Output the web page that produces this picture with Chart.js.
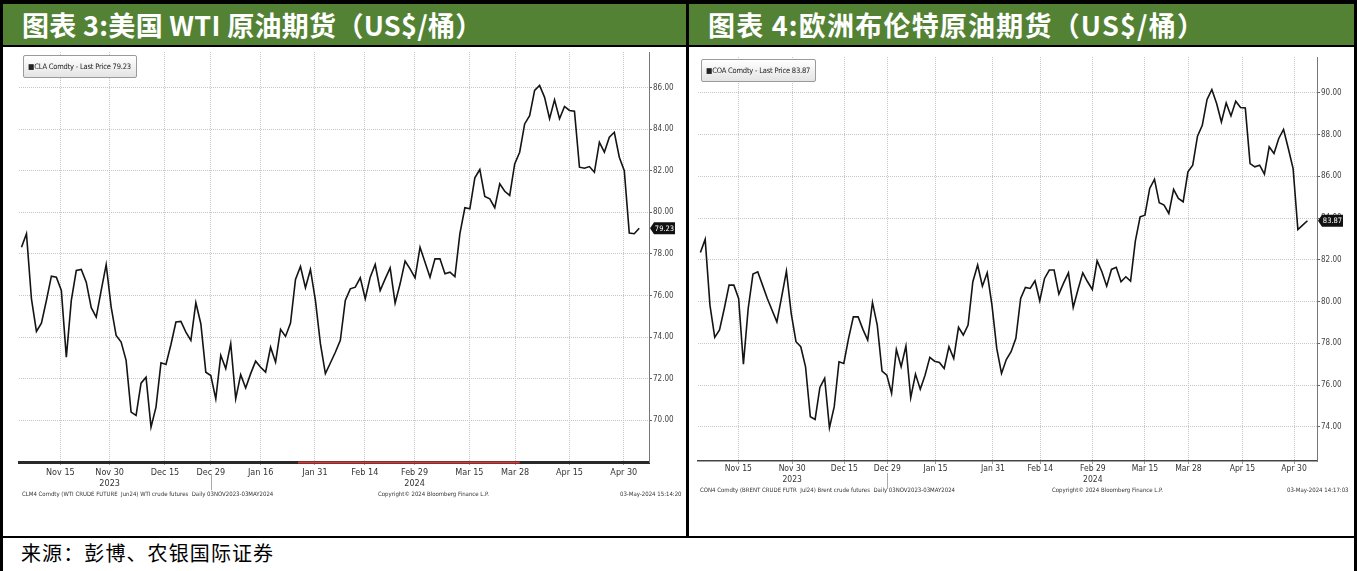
<!DOCTYPE html>
<html lang="zh">
<head>
<meta charset="UTF-8">
<title>原油期货</title>
<script src="https://cdn.jsdelivr.net/npm/chart.js@4.4.1/dist/chart.umd.min.js"></script>
<style>
  html, body { margin: 0; padding: 0; background: #fff; }
  #page { position: relative; width: 1357px; height: 571px; overflow: hidden; background: #fff; font-family: 'Noto Sans CJK SC', sans-serif; }
  .rule { position: absolute; background: #000; }
  .title { position: absolute; top: 4px; height: 41px; background: #548235; color: #fff; font-weight: 700; font-size: 27px; line-height: 41px; padding-left: 19px; box-sizing: border-box; white-space: nowrap; }
  .chart { position: absolute; }
  .legend { position: absolute; height: 21px; border: 1px solid #9a9a9a; border-radius: 2px; background: linear-gradient(#ffffff, #e4e4e4); font: 7.5px 'DejaVu Sans Condensed', sans-serif; letter-spacing: -0.2px; color: #222; line-height: 21px; padding: 0 5px 0 4px; white-space: nowrap; }
  .foot { position: absolute; font: 6px 'DejaVu Sans Condensed', sans-serif; color: #333; white-space: nowrap; }
  #source { position: absolute; left: 21px; top: 539px; font-size: 20px; line-height: 28px; letter-spacing: 1.1px; color: #000; }
</style>
</head>
<body>
<div id="page">
  <div class="title" style="left:3px; width:683px; letter-spacing:0.3px;">图表 3:美国 WTI 原油期货（US$/桶）</div>
  <div class="title" style="left:689px; width:665px; letter-spacing:1.2px;">图表 4:欧洲布伦特原油期货（US$/桶）</div>

  <canvas id="wti" class="chart" width="684" height="446" style="left:0; top:46px;"></canvas>
  <canvas id="brent" class="chart" width="665" height="445" style="left:689px; top:46px;"></canvas>

  <div class="legend" id="lgWti" style="left:23px; top:55px;"></div>
  <div class="legend" id="lgBrent" style="left:701px; top:59px;"></div>

  <div class="foot" style="left:22px; top:490px;">CLM4 Comdty (WTI CRUDE FUTURE&nbsp; Jun24) WTI crude futures&nbsp; Daily 03NOV2023-03MAY2024</div>
  <div class="foot" style="left:378px; top:490px;">Copyright© 2024 Bloomberg Finance L.P.</div>
  <div class="foot" style="left:620px; top:490px;">03-May-2024 15:14:20</div>

  <div class="foot" style="left:700px; top:486px;">CON4 Comdty (BRENT CRUDE FUTR&nbsp; Jul24) Brent crude futures&nbsp; Daily 03NOV2023-03MAY2024</div>
  <div class="foot" style="left:1052px; top:486px;">Copyright© 2024 Bloomberg Finance L.P.</div>
  <div class="foot" style="left:1287px; top:486px;">03-May-2024 14:17:03</div>

  <div id="source">来源：彭博、农银国际证券</div>

  <!-- frame lines -->
  <div class="rule" style="left:0; top:0; width:1357px; height:4px;"></div>
  <div class="rule" style="left:0; top:0; width:3px; height:571px;"></div>
  <div class="rule" style="left:1354px; top:0; width:3px; height:571px;"></div>
  <div class="rule" style="left:686px; top:0; width:3px; height:537px;"></div>
  <div class="rule" style="left:0; top:45px; width:1357px; height:2px;"></div>
  <div class="rule" style="left:0; top:536px; width:1357px; height:2px;"></div>
</div>

<script>
// WTI (CLA Comdty) daily last price, 03 Nov 2023 - 03 May 2024
const wtiPrices = [
  78.32, 78.97, 75.84, 74.27, 74.67, 75.76, 76.93, 76.88, 76.24, 73.03,
  75.76, 77.20, 77.25, 76.64, 75.41, 74.96, 76.24, 77.48, 75.44, 74.08,
  73.76, 72.88, 70.39, 70.23, 71.78, 72.07, 69.67, 70.63, 72.76, 72.68,
  73.64, 74.72, 74.75, 74.24, 73.84, 75.65, 74.64, 72.31, 72.15, 71.03,
  73.12, 72.48, 73.68, 71.03, 72.19, 71.55, 72.24, 72.84, 72.55, 72.31,
  73.51, 72.79, 74.37, 74.03, 74.67, 76.77, 77.39, 76.37, 77.25, 75.76,
  73.68, 72.24, 72.75, 73.27, 73.84, 75.76, 76.32, 76.40, 76.85, 75.84,
  76.88, 77.49, 76.24, 76.80, 77.33, 75.63, 76.56, 77.65, 77.28, 76.85,
  78.32, 77.60, 76.88, 77.76, 77.76, 77.04, 77.12, 76.91, 78.97, 80.22,
  80.17, 81.66, 82.06, 80.76, 80.65, 80.22, 81.37, 81.01, 80.81, 82.33,
  82.89, 84.25, 84.65, 85.86, 86.10, 85.53, 84.50, 85.41, 84.50, 85.09,
  84.90, 84.86, 82.17, 82.12, 82.20, 81.93, 83.37, 82.89, 83.61, 83.85,
  82.65, 82.00, 79.00, 78.97, 79.23
];

// Brent (COA Comdty) daily last price, 03 Nov 2023 - 03 May 2024
const brentPrices = [
  82.35, 82.98, 79.83, 78.29, 78.64, 79.67, 80.79, 80.79, 80.15, 77.01,
  79.67, 81.32, 81.43, 80.79, 80.15, 79.59, 79.03, 80.23, 81.46, 79.44,
  78.08, 77.84, 76.88, 74.49, 74.36, 75.89, 76.33, 73.96, 74.97, 77.12,
  77.04, 78.24, 79.27, 79.27, 78.67, 78.16, 79.96, 78.88, 76.67, 76.48,
  75.61, 77.71, 76.88, 77.87, 75.40, 76.53, 75.81, 76.48, 77.33, 77.15,
  77.09, 76.80, 77.84, 77.28, 78.77, 78.40, 78.88, 80.95, 81.75, 80.74,
  81.38, 79.83, 77.76, 76.56, 77.23, 77.60, 78.24, 80.15, 80.68, 80.63,
  81.00, 80.04, 81.11, 81.51, 81.51, 80.36, 80.90, 81.38, 79.72, 80.58,
  81.38, 80.95, 80.58, 81.95, 81.43, 80.74, 81.54, 81.64, 80.95, 81.19,
  80.98, 82.91, 84.06, 84.14, 85.42, 85.85, 84.73, 84.62, 84.22, 85.37,
  84.94, 84.78, 86.21, 86.53, 87.92, 88.44, 89.68, 90.15, 89.48, 88.60,
  89.51, 88.89, 89.59, 89.29, 89.27, 86.61, 86.45, 86.53, 86.10, 87.41,
  87.09, 87.81, 88.24, 87.33, 86.37, 83.45, 83.66, 83.87
];

// date ticks: position in trading-day index + label
const wtiTickIdx = [7.8, 17.7, 28.8, 38.0, 48.0, 58.9, 68.9, 78.9, 89.9, 99.1, 110.0, 120.9];
const wtiTickLabels = ['Nov 15', 'Nov 30', 'Dec 15', 'Dec 29', 'Jan 16', 'Jan 31', 'Feb 14', 'Feb 29', 'Mar 15', 'Mar 28', 'Apr 15', 'Apr 30'];
const brentTickIdx = [7.95, 19.2, 30.1, 39.1, 49.2, 61.2, 71.1, 82.1, 93.0, 102.1, 113.4, 124.2];
const brentTickLabels = ['Nov 15', 'Nov 30', 'Dec 15', 'Dec 29', 'Jan 15', 'Jan 31', 'Feb 14', 'Feb 29', 'Mar 15', 'Mar 28', 'Apr 15', 'Apr 30'];
const yearLabels = { 'Nov 30': '2023', 'Feb 29': '2024' };
const yearBreak = 'Dec 29';

// highlighted stretch of the WTI time bar (trading-day index)
const wtiRedSpan = [55.5, 100];

const wtiYTicks = [70, 72, 74, 76, 78, 80, 82, 84, 86];
const brentYTicks = [74, 76, 78, 80, 82, 84, 86, 88, 90];

const narrow = "'DejaVu Sans Condensed', sans-serif";

// black last-price flag on the right axis, plus year separator and red bar
const extras = {
  id: 'extras',
  afterDraw(chart, args, opts) {
    const ctx = chart.ctx;
    const xs = chart.scales.x, ys = chart.scales.y;
    const pts = chart.data.datasets[0].data;
    const last = pts[pts.length - 1].y;
    const y = ys.getPixelForValue(last);
    const x = chart.chartArea.right + 1;
    ctx.save();
    ctx.fillStyle = '#111';
    ctx.beginPath();
    ctx.moveTo(x, y);
    ctx.lineTo(x + 4, y - 6);
    ctx.lineTo(x + 25, y - 6);
    ctx.lineTo(x + 25, y + 6);
    ctx.lineTo(x + 4, y + 6);
    ctx.closePath();
    ctx.fill();
    ctx.fillStyle = '#fff';
    ctx.font = '7.5px ' + narrow;
    ctx.textBaseline = 'middle';
    ctx.textAlign = 'center';
    ctx.fillText(last.toFixed(2), x + 14.5, y + 0.5);

    // year separator under the last December tick
    const k = opts.labels.indexOf(yearBreak);
    const sx = Math.round(xs.getPixelForValue(opts.idx[k])) + 0.5;
    const b = chart.chartArea.bottom;
    ctx.strokeStyle = '#aaa';
    ctx.lineWidth = 1;
    ctx.beginPath();
    ctx.moveTo(sx, b + 12);
    ctx.lineTo(sx, b + 28);
    ctx.stroke();

    if (opts.red) {
      ctx.strokeStyle = '#d23a3a';
      ctx.lineWidth = 2;
      ctx.beginPath();
      ctx.moveTo(xs.getPixelForValue(opts.red[0]), b + 0.5);
      ctx.lineTo(xs.getPixelForValue(opts.red[1]), b + 0.5);
      ctx.stroke();
    }
    ctx.restore();
  }
};

function makeChart(id, prices, tickIdx, tickLabels, yTicks, cfg) {
  const ctx = document.getElementById(id).getContext('2d');
  return new Chart(ctx, {
    type: 'line',
    data: {
      datasets: [{
        data: prices.map((v, i) => ({ x: i, y: v })),
        borderColor: '#141414',
        borderWidth: 1.6,
        pointRadius: 0,
        tension: 0
      }]
    },
    options: {
      responsive: false,
      animation: false,
      layout: { padding: { left: cfg.padLeft, top: cfg.padTop, right: 0, bottom: 0 } },
      plugins: {
        legend: { display: false },
        tooltip: { enabled: false },
        extras: { labels: tickLabels, idx: tickIdx, red: cfg.red }
      },
      scales: {
        x: {
          type: 'linear',
          min: -0.5,
          max: cfg.xMax,
          afterBuildTicks: s => { s.ticks = tickIdx.map(v => ({ value: v })); },
          afterFit: s => { s.height = 30; },
          ticks: {
            autoSkip: false,
            maxRotation: 0,
            padding: cfg.xPad,
            color: '#333',
            font: { family: narrow, size: cfg.xFont },
            callback: (v, i) => {
              const lab = tickLabels[i];
              return yearLabels[lab] ? [lab, yearLabels[lab]] : lab;
            }
          },
          grid: { color: '#c6c6c6', lineWidth: 1, drawTicks: true, tickLength: 3, tickColor: '#999' },
          border: { display: true, color: cfg.axisColor, width: cfg.axisWidth, dash: [1, 1] }
        },
        y: {
          position: 'right',
          min: cfg.yMin,
          max: cfg.yMax,
          afterBuildTicks: s => { s.ticks = yTicks.map(v => ({ value: v })); },
          afterFit: s => { s.width = cfg.yWidth; },
          ticks: {
            padding: 1,
            color: '#444',
            font: { family: narrow, size: 8 },
            callback: v => v.toFixed(2)
          },
          grid: { color: '#c6c6c6', lineWidth: 1, drawTicks: true, tickLength: 3, tickColor: '#666' },
          border: { display: true, color: '#777', width: 1, dash: [1, 1] }
        }
      }
    },
    plugins: [extras]
  });
}

makeChart('wti', wtiPrices, wtiTickIdx, wtiTickLabels, wtiYTicks, {
  padLeft: 19, padTop: 6, xMax: 125.96, yMin: 67.99, yMax: 87.71, yWidth: 35,
  xPad: 2, xFont: 9, axisColor: '#2a2a2a', axisWidth: 3, red: wtiRedSpan
});
makeChart('brent', brentPrices, brentTickIdx, brentTickLabels, brentYTicks, {
  padLeft: 9, padTop: 11, xMax: 129.0, yMin: 72.37, yMax: 91.71, yWidth: 37,
  xPad: 0, xFont: 8.5, axisColor: '#444', axisWidth: 1.5, red: null
});

document.getElementById('lgWti').textContent = '\u25A0CLA Comdty - Last Price ' + wtiPrices[wtiPrices.length - 1].toFixed(2);
document.getElementById('lgBrent').textContent = '\u25A0COA Comdty - Last Price ' + brentPrices[brentPrices.length - 1].toFixed(2);
</script>
</body>
</html>
